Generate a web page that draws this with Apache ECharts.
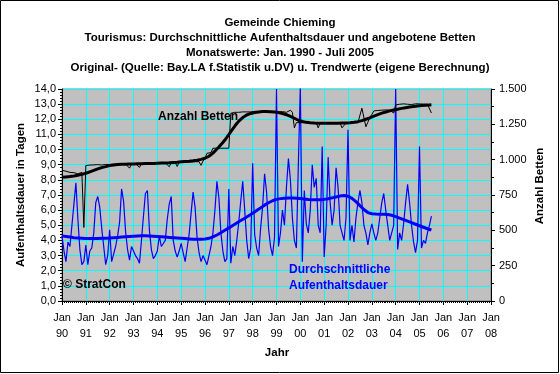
<!DOCTYPE html>
<html><head><meta charset="utf-8">
<script src="https://cdn.jsdelivr.net/npm/echarts@6/dist/echarts.min.js"></script>
<style>html,body{margin:0;padding:0;background:#fff}#c{width:560px;height:374px}</style>
</head><body><div id="c"></div>
<script>
// ---- labels ----
const titleLines = [
  'Gemeinde Chieming',
  'Tourismus: Durchschnittliche Aufenthaltsdauer und angebotene Betten',
  'Monatswerte: Jan. 1990 - Juli 2005',
  'Original- (Quelle: Bay.LA f.Statistik u.DV) u. Trendwerte (eigene Berechnung)'
];
const leftAxisName = 'Aufenthaltsdauer in Tagen';
const rightAxisName = 'Anzahl Betten';
const xAxisName = 'Jahr';
const firstYear = 1990, lastYear = 2008;

// ---- monthly values Jan 1990 .. Jul 2005 ----
// average length of stay (days), original
const stayOrig = [
  4.3, 3.3, 2.6, 3.9, 3.6, 5.0, 6.4, 7.8, 5.4, 3.4, 2.4, 2.6,
  3.7, 2.4, 3.3, 3.5, 4.5, 6.5, 6.9, 6.2, 4.8, 3.6, 2.4, 3.0,
  4.7, 2.6, 3.1, 3.6, 4.3, 5.2, 7.4, 6.6, 4.6, 3.4, 2.7, 3.6,
  3.7, 3.0, 2.8, 2.5, 4.0, 5.6, 7.1, 7.3, 4.7, 3.4, 2.8, 3.0,
  3.3, 4.3, 3.6, 3.8, 4.0, 5.4, 6.4, 6.9, 4.0, 3.3, 2.9, 3.3,
  3.8, 3.2, 2.6, 3.5, 4.4, 5.8, 7.2, 6.2, 4.2, 3.2, 2.6, 3.0,
  3.0, 2.4, 3.0, 3.6, 4.5, 6.0, 7.9, 6.8, 4.5, 3.3, 2.6, 2.8,
  7.4, 2.5, 3.6, 3.0, 4.0, 5.2, 6.6, 7.9, 6.0, 4.0, 2.8, 3.5,
  9.1, 4.4, 3.5, 3.0, 4.8, 6.2, 8.4, 7.2, 4.8, 3.6, 3.0, 4.2,
  14.0, 3.6, 4.5, 6.0, 5.0, 7.5, 9.4, 8.0, 5.5, 4.0, 3.5, 9.0,
  14.2, 2.6, 7.3, 5.1, 4.5, 6.0, 9.0, 7.5, 8.1, 5.0, 4.5, 10.2,
  2.9, 5.0, 9.5, 6.5, 5.0, 6.0, 8.8, 7.5, 5.0, 4.5, 4.0, 5.5,
  11.3, 4.0, 5.0, 3.9, 5.5, 6.5, 7.3, 6.5, 5.0, 4.5, 3.7, 4.5,
  5.1, 4.5, 4.0, 4.5, 5.5, 6.5, 7.1, 6.0, 5.0, 4.0, 3.9, 5.0,
  14.0, 3.4, 4.5, 4.0, 5.1, 6.5, 7.7, 6.5, 5.0, 3.9, 3.2, 4.0,
  10.2, 3.5, 4.0, 3.8, 4.5, 5.0, 5.6
];
// average length of stay, trend
const stayTrend = [
  4.30, 4.28, 4.26, 4.24, 4.22, 4.20, 4.18, 4.17, 4.16, 4.15, 4.14, 4.13,
  4.12, 4.12, 4.12, 4.12, 4.12, 4.13, 4.13, 4.14, 4.14, 4.15, 4.15, 4.15,
  4.16, 4.17, 4.18, 4.19, 4.20, 4.21, 4.22, 4.23, 4.24, 4.25, 4.26, 4.27,
  4.28, 4.29, 4.30, 4.30, 4.31, 4.31, 4.31, 4.30, 4.30, 4.29, 4.28, 4.27,
  4.26, 4.25, 4.24, 4.23, 4.22, 4.21, 4.20, 4.19, 4.18, 4.17, 4.16, 4.15,
  4.14, 4.13, 4.12, 4.11, 4.10, 4.09, 4.08, 4.07, 4.07, 4.07, 4.07, 4.08,
  4.09, 4.11, 4.14, 4.18, 4.23, 4.29, 4.36, 4.43, 4.51, 4.59, 4.67, 4.75,
  4.83, 4.91, 4.99, 5.07, 5.15, 5.23, 5.31, 5.39, 5.47, 5.55, 5.63, 5.71,
  5.79, 5.88, 5.97, 6.06, 6.15, 6.24, 6.33, 6.41, 6.49, 6.56, 6.62, 6.67,
  6.71, 6.74, 6.76, 6.78, 6.79, 6.80, 6.80, 6.80, 6.80, 6.79, 6.79, 6.78,
  6.77, 6.76, 6.74, 6.72, 6.70, 6.69, 6.68, 6.68, 6.68, 6.68, 6.69, 6.70,
  6.71, 6.73, 6.75, 6.78, 6.81, 6.84, 6.87, 6.90, 6.93, 6.95, 6.96, 6.95,
  6.92, 6.86, 6.78, 6.68, 6.56, 6.43, 6.30, 6.17, 6.04, 5.93, 5.84, 5.78,
  5.76, 5.75, 5.74, 5.73, 5.73, 5.73, 5.73, 5.72, 5.71, 5.69, 5.66, 5.62,
  5.57, 5.52, 5.47, 5.42, 5.37, 5.32, 5.27, 5.22, 5.17, 5.12, 5.07, 5.02,
  4.97, 4.92, 4.87, 4.82, 4.77, 4.73, 4.69
];
// beds offered, original
const bedsOrig = [
  925, 915, 918, 905, 910, 920, 908, 912, 900, 905, 910, 520,
  958, 960, 962, 960, 963, 962, 965, 963, 962, 965, 966, 965,
  966, 967, 968, 967, 968, 969, 968, 970, 969, 970, 940, 970,
  971, 972, 970, 945, 972, 973, 972, 974, 973, 975, 974, 975,
  976, 975, 977, 976, 978, 977, 950, 979, 978, 980, 952, 981,
  982, 983, 982, 984, 985, 984, 986, 985, 987, 986, 960, 990,
  1010, 1045, 1057, 1050, 1081, 1081, 1081, 1081, 1081, 1081, 1081, 1081,
  1081, 1328, 1330, 1335, 1338, 1335, 1340, 1338, 1336, 1338, 1340, 1338,
  1340, 1342, 1338, 1340, 1345, 1340, 1338, 1342, 1340, 1338, 1336, 1340,
  1335, 1338, 1335, 1340, 1338, 1335, 1342, 1350, 1335, 1225, 1262, 1262,
  1262, 1260, 1262, 1258, 1260, 1262, 1258, 1260, 1262, 1225, 1260, 1262,
  1260, 1262, 1258, 1260, 1262, 1260, 1258, 1262, 1260, 1225, 1230, 1260,
  1262, 1260, 1258, 1262, 1260, 1262, 1262, 1364, 1364, 1233, 1265, 1300,
  1320, 1345, 1352, 1348, 1355, 1350, 1345, 1352, 1358, 1350, 1355, 1330,
  1387, 1390, 1392, 1388, 1395, 1390, 1392, 1395, 1390, 1393, 1395, 1392,
  1395, 1390, 1393, 1395, 1392, 1385, 1330
];
// beds offered, trend
const bedsTrend = [
  875, 876, 878, 879, 881, 883, 885, 887, 890, 893, 896, 900,
  904, 909, 914, 919, 924, 929, 935, 940, 944, 948, 951, 955,
  958, 960, 962, 963, 965, 966, 967, 968, 968, 969, 969, 970,
  970, 970, 971, 971, 971, 972, 972, 972, 973, 973, 973, 974,
  975, 975, 976, 976, 977, 977, 978, 979, 980, 981, 982, 983,
  985, 986, 987, 988, 989, 990, 992, 994, 996, 999, 1002, 1005,
  1010, 1016, 1024, 1034, 1046, 1060, 1075, 1090, 1106, 1122, 1139, 1158,
  1178, 1198, 1218, 1238, 1256, 1272, 1286, 1298, 1308, 1316, 1322, 1327,
  1331, 1334, 1336, 1338, 1339, 1340, 1340, 1340, 1339, 1339, 1338, 1337,
  1335, 1333, 1330, 1327, 1323, 1318, 1312, 1306, 1300, 1293, 1286, 1279,
  1274, 1270, 1267, 1264, 1262, 1261, 1260, 1259, 1258, 1258, 1258, 1258,
  1258, 1258, 1258, 1258, 1258, 1258, 1258, 1258, 1259, 1259, 1260, 1260,
  1261, 1262, 1263, 1265, 1267, 1269, 1272, 1276, 1281, 1286, 1291, 1296,
  1302, 1308, 1314, 1319, 1324, 1329, 1333, 1337, 1341, 1345, 1348, 1351,
  1354, 1357, 1360, 1363, 1366, 1368, 1370, 1372, 1374, 1376, 1378, 1380,
  1381, 1383, 1384, 1385, 1386, 1387, 1388
];

// month categories Jan 1990 .. Jan 2008
const cats = [];
for (let y = firstYear; y < lastYear; y++) for (let m = 1; m <= 12; m++) cats.push(y + '-' + m);
cats.push(lastYear + '-1');

const FONT = '"Liberation Sans", Arial, sans-serif';
const deNum = v => v >= 1000 ? Math.floor(v / 1000) + '.' + String(v % 1000).padStart(3, '0') : String(v);

const chart = echarts.init(document.getElementById('c'), null, {renderer: 'canvas'});
const txt = (text, x, y, opt) => Object.assign({
  type: 'text', x: x, y: y, z: 100,
  style: Object.assign({text: text, fill: '#000', font: 'bold 11.5px ' + FONT, textAlign: 'center', textVerticalAlign: 'middle'}, opt && opt.style || {})
}, opt && opt.el || {});

chart.setOption({
  animation: false,
  backgroundColor: '#fff',
  textStyle: {fontFamily: FONT},
  grid: {left: 62, top: 89, width: 429, height: 212, show: true, backgroundColor: '#c0c0c0', borderColor: '#808080', borderWidth: 1},
  xAxis: [{
    type: 'category', data: cats, boundaryGap: false,
    axisLine: {lineStyle: {color: '#000', width: 1}},
    axisTick: {interval: 11, length: 4, lineStyle: {color: '#000'}},
    axisLabel: {interval: 11, color: '#000', fontSize: 11, fontFamily: FONT, lineHeight: 16, margin: 9,
      formatter: v => 'Jan\n' + v.slice(2, 4)},
    splitLine: {show: true, interval: 11, lineStyle: {color: '#00ffff', width: 1}}
  }, {
    type: 'category', data: cats, boundaryGap: false, position: 'bottom',
    axisLine: {show: false}, axisLabel: {show: false}, splitLine: {show: false},
    axisTick: {interval: 0, length: 2, lineStyle: {color: '#000'}}
  }],
  yAxis: [{
    type: 'value', min: 0, max: 14, interval: 1, position: 'left',
    axisLine: {show: true, lineStyle: {color: '#000'}},
    axisTick: {show: true, length: 4, lineStyle: {color: '#000'}},
    minorTick: {show: true, splitNumber: 5, length: 2, lineStyle: {color: '#000'}},
    axisLabel: {color: '#000', fontSize: 11, fontFamily: FONT, margin: 6, formatter: v => v.toFixed(1).replace('.', ',')},
    splitLine: {show: true, lineStyle: {color: '#00ffff', width: 1}}
  }, {
    type: 'value', min: 0, max: 1500, interval: 250, position: 'right',
    axisLine: {show: true, lineStyle: {color: '#000'}},
    axisTick: {show: true, length: 4, lineStyle: {color: '#000'}},
    minorTick: {show: true, splitNumber: 2, length: 3, lineStyle: {color: '#000'}},
    axisLabel: {color: '#000', fontSize: 11, fontFamily: FONT, margin: 8, formatter: deNum},
    splitLine: {show: false}
  }],
  series: [
    {type: 'line', name: 'stayOrig', data: stayOrig, xAxisIndex: 0, yAxisIndex: 0, showSymbol: false, symbol: 'none', lineStyle: {color: '#0000ff', width: 1.2}, z: 2},
    {type: 'line', name: 'stayTrend', data: stayTrend, xAxisIndex: 0, yAxisIndex: 0, showSymbol: false, symbol: 'none', lineStyle: {color: '#0000ff', width: 3}, z: 3},
    {type: 'line', name: 'bedsOrig', data: bedsOrig, xAxisIndex: 0, yAxisIndex: 1, showSymbol: false, symbol: 'none', lineStyle: {color: '#000', width: 1}, z: 4},
    {type: 'line', name: 'bedsTrend', data: bedsTrend, xAxisIndex: 0, yAxisIndex: 1, showSymbol: false, symbol: 'none', lineStyle: {color: '#000', width: 3}, z: 5}
  ],
  graphic: [
    {type: 'rect', shape: {x: 0.5, y: 0.5, width: 558, height: 372}, style: {fill: 'none', stroke: '#000', lineWidth: 1}, z: 100},
    txt(titleLines[0], 280, 23),
    txt(titleLines[1], 280, 38),
    txt(titleLines[2], 280, 53),
    txt(titleLines[3], 280, 68),
    txt(leftAxisName, 21, 195, {el: {rotation: Math.PI / 2}}),
    txt(rightAxisName, 540, 186, {el: {rotation: Math.PI / 2}}),
    txt(xAxisName, 277, 353),
    txt('Anzahl Betten', 158, 117, {style: {textAlign: 'left', font: 'bold 12px ' + FONT}}),
    txt('Durchschnittliche', 289, 270, {style: {textAlign: 'left', fill: '#0000ff', font: 'bold 12px ' + FONT}}),
    txt('Aufenthaltsdauer', 289, 286, {style: {textAlign: 'left', fill: '#0000ff', font: 'bold 12px ' + FONT}}),
    txt('© StratCon', 63, 285, {style: {textAlign: 'left', font: 'bold 12px ' + FONT}})
  ]
});
</script>
</body></html>
